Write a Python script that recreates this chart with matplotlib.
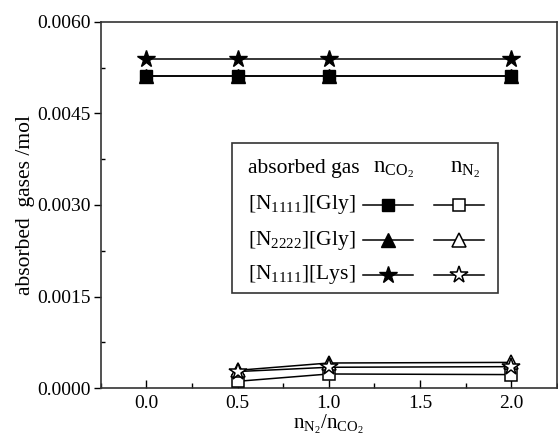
import matplotlib
matplotlib.use("Agg")
import matplotlib.pyplot as plt
from matplotlib.lines import Line2D
from matplotlib.patches import Rectangle
from matplotlib.ticker import MultipleLocator, FormatStrFormatter

plt.rcParams['font.family'] = ['Liberation Serif', 'DejaVu Serif']
plt.rcParams['mathtext.fontset'] = 'custom'
plt.rcParams['mathtext.rm'] = 'Liberation Serif'
plt.rcParams['mathtext.it'] = 'Liberation Serif:italic'

# data
x_co2 = [0.0, 0.5, 1.0, 2.0]
x_n2 = [0.5, 1.0, 2.0]
ils = ['[N$_{1111}$][Gly]', '[N$_{2222}$][Gly]', '[N$_{1111}$][Lys]']
co2_gly1111 = [0.00512, 0.00512, 0.00512, 0.00512]
co2_gly2222 = [0.00512, 0.00512, 0.00512, 0.00512]
co2_lys1111 = [0.00540, 0.00540, 0.00540, 0.00540]
n2_gly1111 = [0.00011, 0.00023, 0.00022]
n2_gly2222 = [0.00029, 0.00041, 0.00042]
n2_lys1111 = [0.00027, 0.00034, 0.00035]

markers = ['s', '^', '*']
msizes = [9, 10, 13]

fig = plt.figure(figsize=(5.58, 4.37), dpi=100)
ax = fig.add_axes([0.1805, 0.1121, 0.8175, 0.8376])

co2 = [co2_gly1111, co2_gly2222, co2_lys1111]
n2 = [n2_gly1111, n2_gly2222, n2_lys1111]
for i in range(3):
    ax.plot(x_co2, co2[i], color='black', lw=1.1, marker=markers[i],
            ms=msizes[i], mfc='black', mec='black', zorder=3)
    ax.plot(x_n2, n2[i], color='black', lw=1.1, marker=markers[i],
            ms=msizes[i], mfc='white', mec='black', mew=1.1, zorder=3)

ax.set_xlim(-0.25, 2.25)
ax.set_ylim(0, 0.006)
ax.xaxis.set_major_locator(MultipleLocator(0.5))
ax.xaxis.set_minor_locator(MultipleLocator(0.25))
ax.yaxis.set_major_locator(MultipleLocator(0.0015))
ax.yaxis.set_minor_locator(MultipleLocator(0.00075))
ax.xaxis.set_major_formatter(FormatStrFormatter('%.1f'))
ax.yaxis.set_major_formatter(FormatStrFormatter('%.4f'))
ax.tick_params(axis='x', which='major', direction='in', length=6, width=1, labelsize=14, pad=5)
ax.tick_params(axis='x', which='minor', direction='in', length=3.5, width=1)
ax.tick_params(axis='y', which='major', direction='out', length=5, width=1, labelsize=14, pad=2)
ax.tick_params(axis='y', which='minor', direction='in', length=3, width=1)
for s in ax.spines.values():
    s.set_linewidth(1.2)
    s.set_color('#333333')

ax.set_xlabel(r'$\mathrm{n_{N_2}/n_{CO_2}}$', fontsize=15, labelpad=1)
ax.set_ylabel('absorbed  gases /mol', fontsize=15.5, labelpad=2)

# legend drawn as a small table
fs = 15.5
tr = ax.transAxes
ax.add_patch(Rectangle((0.288, 0.260), 0.583, 0.409, transform=tr, fill=False,
                       lw=1.2, ec='#333333', zorder=4))
ax.text(0.323, 0.601, 'absorbed gas', transform=tr, fontsize=fs, va='center', ha='left')
ax.text(0.641, 0.598, r'$\mathrm{n_{CO_2}}$', transform=tr, fontsize=fs + 1, va='center', ha='center')
ax.text(0.798, 0.598, r'$\mathrm{n_{N_2}}$', transform=tr, fontsize=fs + 1, va='center', ha='center')
rows_y = [0.500, 0.404, 0.309]
for i in range(3):
    yy = rows_y[i]
    ax.text(0.323, yy, ils[i], transform=tr, fontsize=fs, va='center', ha='left')
    ax.add_line(Line2D([0.575, 0.685], [yy, yy], transform=tr, color='black', lw=1.1))
    ax.add_line(Line2D([0.630], [yy], transform=tr, marker=markers[i], ms=msizes[i],
                       mfc='black', mec='black', ls='none'))
    ax.add_line(Line2D([0.730, 0.840], [yy, yy], transform=tr, color='black', lw=1.1))
    ax.add_line(Line2D([0.785], [yy], transform=tr, marker=markers[i], ms=msizes[i],
                       mfc='white', mec='black', mew=1.1, ls='none'))

fig.savefig('out.png', dpi=100)
